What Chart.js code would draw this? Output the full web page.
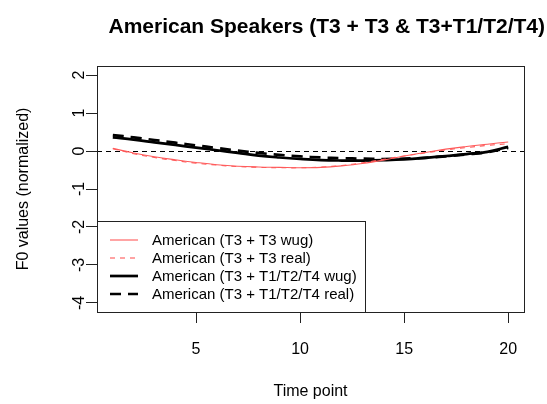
<!DOCTYPE html>
<html>
<head>
<meta charset="utf-8">
<script src="https://cdn.jsdelivr.net/npm/chart.js@4"></script>
<style>
  html, body { margin: 0; padding: 0; background: #fff; }
  #wrap { width: 547px; height: 404px; }
</style>
</head>
<body>
<div id="wrap"><canvas id="f0Chart" width="547" height="404"></canvas></div>
<script>
// time points and fitted F0 contours
const timePoints = [1, 2, 3, 4, 5, 6, 7, 8, 9, 10, 11, 12, 13, 14, 15, 16, 17, 18, 19, 20];
const t3t3Wug = [0.07, -0.05, -0.15, -0.23, -0.30, -0.36, -0.40, -0.42, -0.43, -0.44, -0.43, -0.39, -0.33, -0.24, -0.13, -0.04, 0.05, 0.12, 0.18, 0.24];
const t3t3Real = [0.06, -0.07, -0.17, -0.25, -0.32, -0.37, -0.41, -0.43, -0.44, -0.44, -0.42, -0.38, -0.31, -0.22, -0.13, -0.05, 0.03, 0.09, 0.15, 0.19];
const t3OtherWug = [0.36, 0.30, 0.23, 0.16, 0.09, 0.02, -0.05, -0.12, -0.17, -0.21, -0.24, -0.25, -0.25, -0.24, -0.22, -0.18, -0.13, -0.08, -0.02, 0.11];
const t3OtherReal = [0.42, 0.36, 0.29, 0.22, 0.15, 0.08, 0.01, -0.05, -0.10, -0.14, -0.17, -0.19, -0.20, -0.21, -0.20, -0.18, -0.14, -0.09, -0.03, 0.08];

const xTicks = [5, 10, 15, 20];
const yTicks = [-4, -3, -2, -1, 0, 1, 2];

const seriesNames = [
  'American (T3 + T3 wug)',
  'American (T3 + T3 real)',
  'American (T3 + T1/T2/T4 wug)',
  'American (T3 + T1/T2/T4 real)'
];

const titleText = 'American Speakers (T3 + T3 & T3+T1/T2/T4)';
const xTitle = 'Time point';
const yTitle = 'F0 values (normalized)';

const FONT = '"Liberation Sans", Arial, sans-serif';

function pts(vals) {
  return timePoints.map((t, i) => ({ x: t, y: vals[i] }));
}

const styles = [
  { color: '#ff5a5a', width: 1.1, dash: [] },
  { color: '#ff5a5a', width: 1.1, dash: [5, 5] },
  { color: '#000', width: 2.7, dash: [] },
  { color: '#000', width: 2.7, dash: [11, 7] }
];
const seriesVals = [t3t3Wug, t3t3Real, t3OtherWug, t3OtherReal];

const datasets = seriesVals.map((vals, i) => ({
  label: seriesNames[i],
  data: pts(vals),
  borderColor: styles[i].color,
  borderWidth: styles[i].width,
  borderDash: styles[i].dash,
  pointRadius: 0,
  tension: 0.4,
  fill: false
}));

// R-style decorations: box, zero line, labels, legend
const baseDecor = {
  id: 'baseDecor',
  beforeDatasetsDraw(chart) {
    const { ctx, chartArea: a, scales: { y } } = chart;
    const y0 = Math.round(y.getPixelForValue(0)) + 0.5;
    ctx.save();
    ctx.strokeStyle = '#000';
    ctx.lineWidth = 1;
    ctx.setLineDash([5, 4]);
    ctx.beginPath();
    ctx.moveTo(a.left, y0);
    ctx.lineTo(a.right, y0);
    ctx.stroke();
    ctx.restore();
  },
  afterDraw(chart) {
    const { ctx, chartArea: a, scales: { x, y } } = chart;
    ctx.save();

    // plot frame
    ctx.strokeStyle = '#222';
    ctx.lineWidth = 1;
    ctx.strokeRect(Math.round(a.left) + 0.5, Math.round(a.top) + 0.5,
      Math.round(a.right - a.left), Math.round(a.bottom - a.top));

    // tick labels
    ctx.fillStyle = '#000';
    ctx.font = '16px ' + FONT;
    ctx.textAlign = 'center';
    ctx.textBaseline = 'alphabetic';
    xTicks.forEach(v => ctx.fillText(String(v), x.getPixelForValue(v), 354));
    yTicks.forEach(v => {
      ctx.save();
      ctx.translate(84, y.getPixelForValue(v));
      ctx.rotate(-Math.PI / 2);
      ctx.fillText(String(v), 0, 0);
      ctx.restore();
    });

    // axis titles
    ctx.fillText(xTitle, (a.left + a.right) / 2, 396);
    ctx.save();
    ctx.translate(28, (a.top + a.bottom) / 2);
    ctx.rotate(-Math.PI / 2);
    ctx.fillText(yTitle, 0, 0);
    ctx.restore();

    // main title
    ctx.font = 'bold 21px ' + FONT;
    ctx.textAlign = 'right';
    ctx.fillText(titleText, 545, 33);

    // legend
    const lx = Math.round(a.left) + 0.5, ly = 221.5;
    const lw = 268, lh = Math.round(a.bottom) - 221;
    ctx.fillStyle = '#fff';
    ctx.fillRect(lx, ly, lw, lh);
    ctx.strokeStyle = '#222';
    ctx.lineWidth = 1;
    ctx.strokeRect(lx, ly, lw, lh);
    ctx.font = '15px ' + FONT;
    ctx.textAlign = 'left';
    ctx.fillStyle = '#000';
    seriesNames.forEach((name, i) => {
      const cy = 240 + i * 18;
      ctx.strokeStyle = styles[i].color;
      ctx.lineWidth = styles[i].width;
      ctx.setLineDash(styles[i].dash);
      ctx.beginPath();
      ctx.moveTo(110, cy);
      ctx.lineTo(138, cy);
      ctx.stroke();
      ctx.setLineDash([]);
      ctx.fillText(name, 152, cy + 5);
    });
    ctx.restore();
  }
};

new Chart(document.getElementById('f0Chart'), {
  type: 'line',
  data: { datasets },
  plugins: [baseDecor],
  options: {
    responsive: false,
    animation: false,
    layout: { padding: { top: 66, right: 23, left: 0, bottom: 0 } },
    scales: {
      x: {
        type: 'linear',
        min: 0.24,
        max: 20.76,
        afterBuildTicks: s => { s.ticks = xTicks.map(v => ({ value: v })); },
        afterFit: s => { s.height = 92; },
        ticks: { display: false },
        grid: { drawOnChartArea: false, drawTicks: true, tickLength: 11, color: '#222' },
        border: { display: false }
      },
      y: {
        min: -4.24,
        max: 2.24,
        afterBuildTicks: s => { s.ticks = yTicks.map(v => ({ value: v })); },
        afterFit: s => { s.width = 97; },
        ticks: { display: false },
        grid: { drawOnChartArea: false, drawTicks: true, tickLength: 11, color: '#222' },
        border: { display: false }
      }
    },
    plugins: {
      legend: { display: false },
      tooltip: { enabled: false },
      title: { display: false }
    }
  }
});
</script>
</body>
</html>
